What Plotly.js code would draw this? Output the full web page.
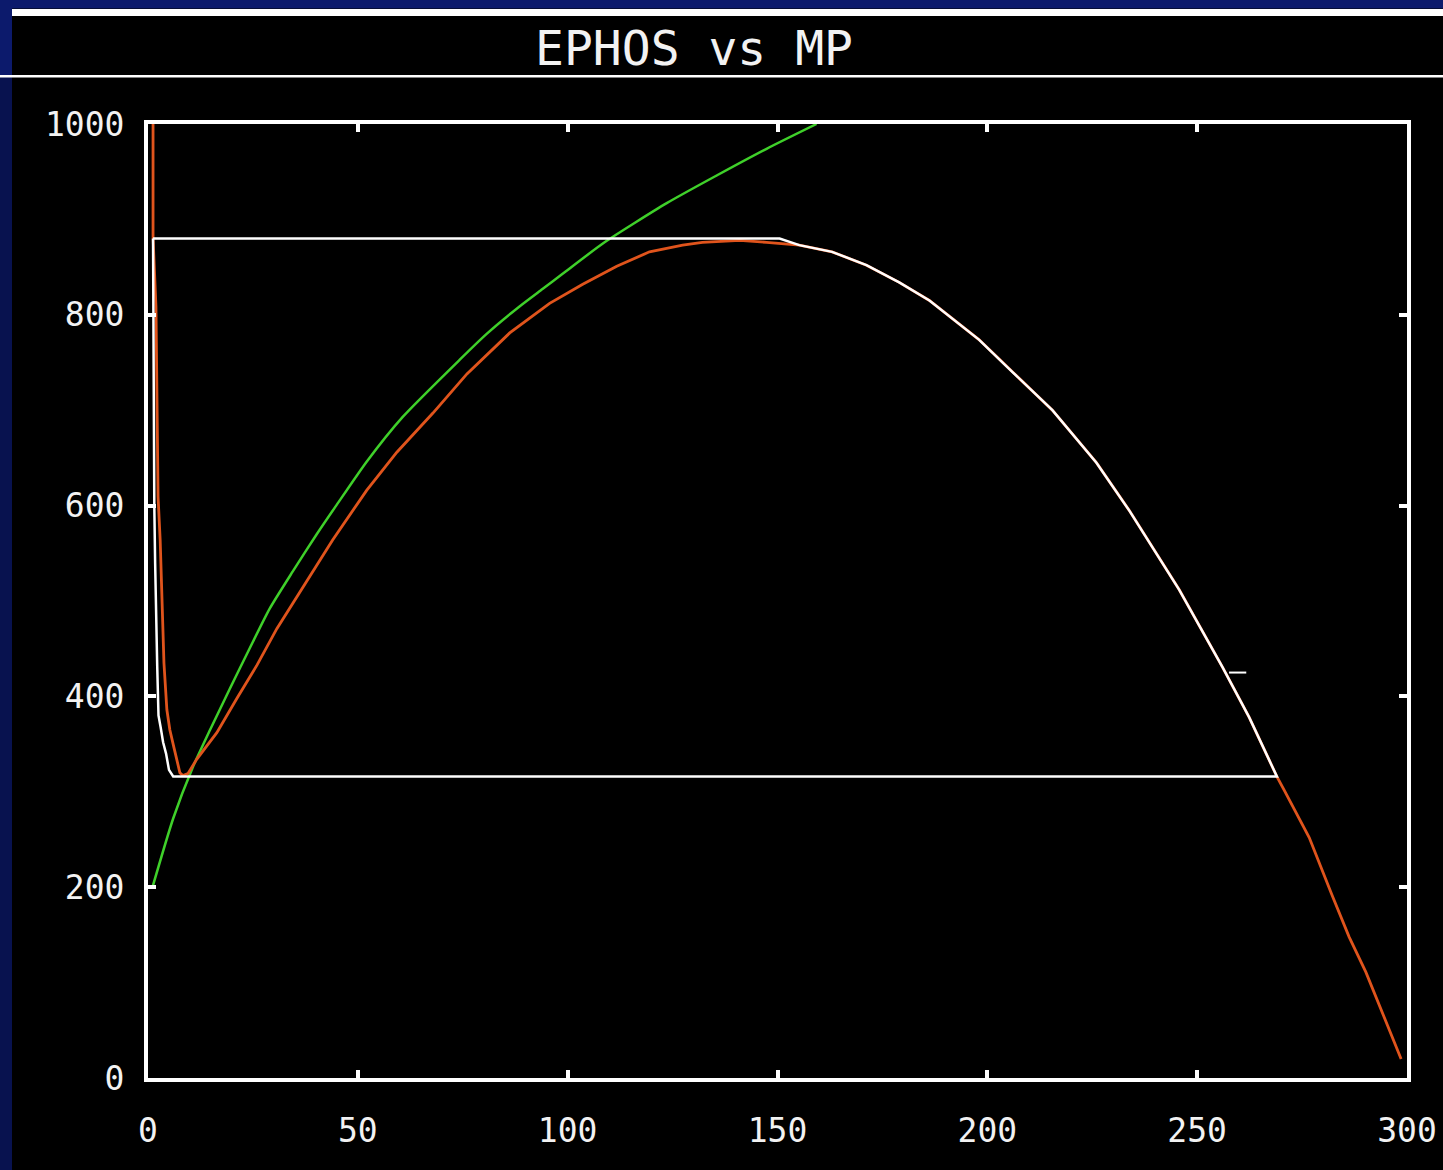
<!DOCTYPE html>
<html>
<head>
<meta charset="utf-8">
<script src="https://cdn.plot.ly/plotly-3.0.1.min.js"></script>
<style>
html,body{margin:0;padding:0;background:#000;}
#chart{width:1443px;height:1170px;}
</style>
</head>
<body>
<div id="chart"></div>
<script>
// MP curve (orange)
const mpX = [1.2, 1.2, 1.9, 2.1, 2.4, 2.9, 3.3, 3.8, 4.5, 5.2, 6.2, 6.9, 7.6, 8.3, 9.5, 11.6, 16.4, 21.2, 26, 30.7, 36.9, 44, 52.1, 59.3, 67.9, 76, 86.2, 95.7, 103.6, 111.7, 119.5, 127.4, 132.1, 141, 147.4, 155.2, 163, 171.2, 179, 186.2, 198, 206, 215.5, 226, 233.8, 245.7, 256, 262.4, 269, 270.7, 276.7, 282.1, 286.2, 290.2, 294, 298.6];
const mpY = [1000, 882, 808, 711, 609, 564, 508, 435, 386, 365, 346, 333, 320, 317, 319, 334, 362, 398, 433, 471, 515, 564, 616, 656, 697, 738, 781, 812, 832, 851, 866, 873, 876, 878, 876, 873, 866, 852, 834, 815, 774, 740, 700, 645, 595, 512, 431, 378, 316, 302, 252, 192, 148, 111, 70, 20];

// EPHOS curve (white, closed loop)
const ephosX = [1.2, 150.5, 155.2, 163, 171.2, 179, 186.2, 198, 206, 215.5, 226, 233.8, 245.7, 256, 262.4, 269, 6, 5, 4.3, 3.6, 3.0, 2.5, 2.2, 1.9, 1.7, 1.5, 1.4, 1.2];
const ephosY = [880, 880, 873, 866, 852, 834, 815, 774, 740, 700, 645, 595, 512, 431, 378, 316, 316, 323, 340, 352, 368, 380, 431, 480, 540, 600, 800, 880];

// Green curve
const greenX = [1, 6, 10.7, 14.8, 19.5, 24.3, 29, 34.5, 40.2, 45, 52.1, 60.7, 74.3, 80.7, 88.6, 94, 98.8, 108.8, 123.6, 135.5, 147.4, 159.3];
const greenY = [199, 272, 326, 365, 408, 451, 492, 531, 570, 601, 646, 693, 753, 780, 809, 827, 843, 876, 917, 946, 974, 1000];

// small white mark
const markX = [257.6, 261.7];
const markY = [425, 425];

const xTickVals = [0, 50, 100, 150, 200, 250, 300];
const yTickVals = [0, 200, 400, 600, 800, 1000];

const traces = [
  {x: greenX, y: greenY, mode: 'lines', name: 'Green', line: {color: '#3fd02a', width: 2.5, shape: 'spline', smoothing: 0.6}},
  {x: mpX, y: mpY, mode: 'lines', name: 'MP', line: {color: '#e0541c', width: 2.8}},
  {x: ephosX, y: ephosY, mode: 'lines', name: 'EPHOS', line: {color: '#ffffff', width: 2.5}},
  {x: markX, y: markY, mode: 'lines', name: 'mark', line: {color: '#ffffff', width: 2}}
];

// pixel -> paper helpers for decoration shapes (plot area: x 148..1407, y 124..1078)
const px = p => (p - 148) / 1259;
const py = p => (1078 - p) / 954;

const axisCommon = {
  showgrid: false, zeroline: false,
  showline: true, linecolor: '#ffffff', linewidth: 4,
  mirror: 'ticks', ticks: 'inside', ticklen: 8, tickwidth: 4, tickcolor: '#ffffff',
  tickfont: {family: 'DejaVu Sans Mono', size: 33, color: '#f2f2f2'},
  fixedrange: true
};

const layout = {
  width: 1443, height: 1170,
  paper_bgcolor: '#000000', plot_bgcolor: '#000000',
  margin: {l: 148, r: 36, t: 124, b: 92},
  showlegend: false,
  title: {text: 'EPHOS vs MP', font: {family: 'DejaVu Sans Mono', size: 48, color: '#f2f2f2'},
          x: 694 / 1443, xanchor: 'center', xref: 'container', y: 1 - 48 / 1170, yanchor: 'middle', yref: 'container'},
  xaxis: Object.assign({}, axisCommon, {range: [0, 300], tickvals: xTickVals, ticklabelstandoff: 20}),
  yaxis: Object.assign({}, axisCommon, {range: [0, 1000], tickvals: yTickVals, ticklabelstandoff: 13}),
  shapes: [
    {type: 'rect', xref: 'paper', yref: 'paper', x0: px(0), x1: px(1443), y0: py(8.5), y1: py(0), fillcolor: '#0c1a6c', line: {width: 0}},
    {type: 'rect', xref: 'paper', yref: 'paper', x0: px(0), x1: px(12), y0: py(76), y1: py(0), fillcolor: '#0c1a6c', line: {width: 0}},
    {type: 'rect', xref: 'paper', yref: 'paper', x0: px(0), x1: px(12), y0: py(1170), y1: py(76), fillcolor: '#08124f', line: {width: 0}},
    {type: 'rect', xref: 'paper', yref: 'paper', x0: px(12), x1: px(1443), y0: py(16), y1: py(9), fillcolor: '#ffffff', line: {width: 0}},
    {type: 'rect', xref: 'paper', yref: 'paper', x0: px(0), x1: px(1443), y0: py(77.5), y1: py(75), fillcolor: '#ffffff', line: {width: 0}}
  ]
};

Plotly.newPlot('chart', traces, layout, {displayModeBar: false, staticPlot: true});
</script>
</body>
</html>
